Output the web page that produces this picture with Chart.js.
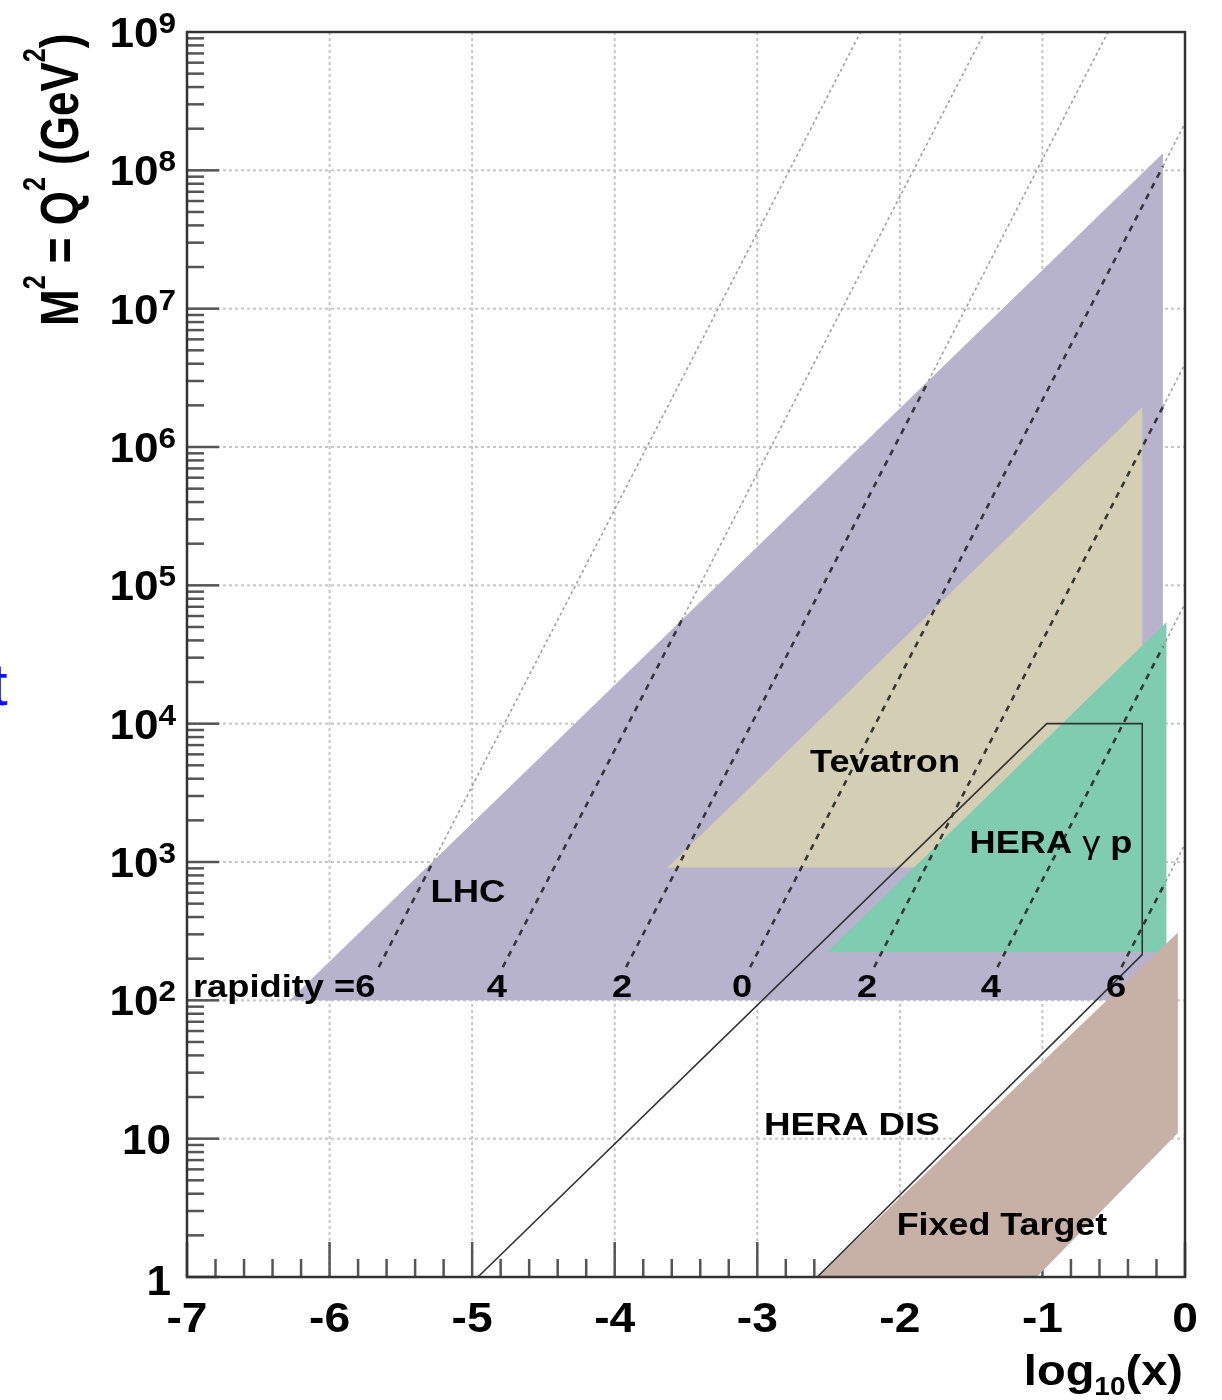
<!DOCTYPE html>
<html>
<head>
<meta charset="utf-8">
<script src="https://cdn.jsdelivr.net/npm/chart.js@4.4.1/dist/chart.umd.min.js"></script>
<style>
  body { margin: 0; background: #fff; }
  canvas { display: block; }
</style>
</head>
<body>
<canvas id="kin" width="1222" height="1400"></canvas>
<script>
// kinematic regions: x is log10(x), y is M^2 = Q^2 in GeV^2
var lhcX = [-6.28, -0.155, -0.155];
var lhcQ2 = [100, 1.33e8, 100];
var tevX = [-3.63, -0.30, -0.30];
var tevQ2 = [912, 1.95e6, 912];
var heraGpX = [-2.51, -0.13, -0.13];
var heraGpQ2 = [224, 5.4e4, 224];
var fixedX = [-2.58, -0.05, -0.05, -1.04];
var fixedQ2 = [1, 309, 11, 1];
var heraDisX = [-4.96, -0.97, -0.30, -0.30, -2.58];
var heraDisQ2 = [1, 1e4, 1e4, 214, 1];

// rapidity lines: foot (above the labels), where they leave the LHC band, end at the frame
var rapidityLabels = ["rapidity =6", "4", "2", "0", "2", "4", "6"];
var rapLowX = [-5.655, -4.785, -3.92, -3.05, -2.18, -1.315, -0.445];
var rapLowQ2 = [174, 174, 174, 174, 174, 174, 174];
var rapMidX = [-5.27, -3.53, -1.80, -0.155, -0.155, -0.155, -0.155];
var rapMidQ2 = [1020, 5.6e4, 3.0e6, 1.07e8, 1.95e6, 3.6e4, 660];
var rapTopX = [-2.275, -1.405, -0.54, 0, 0, 0, 0];
var rapTopQ2 = [1e9, 1e9, 1e9, 2.2e8, 4.0e6, 7.4e4, 1350];

// axes
var xTicks = [-7, -6, -5, -4, -3, -2, -1, 0];
var xTickLabels = ["-7", "-6", "-5", "-4", "-3", "-2", "-1", "0"];
var yTicks = [1, 10, 1e2, 1e3, 1e4, 1e5, 1e6, 1e7, 1e8, 1e9];
var yTickExp = [0, 1, 2, 3, 4, 5, 6, 7, 8, 9];

var FONT = '"Liberation Sans", Arial, sans-serif';

function pts(xs, ys, close) {
  var p = xs.map(function (v, i) { return { x: v, y: ys[i] }; });
  if (close) p.push(p[0]);
  return p;
}

function region(xs, ys, colour, order) {
  return {
    data: pts(xs, ys, true),
    backgroundColor: colour,
    borderColor: colour,
    borderWidth: 0,
    fill: 'shape',
    pointRadius: 0,
    tension: 0,
    order: order
  };
}

var datasets = [
  region(lhcX, lhcQ2, '#b7b3cc', 20),
  region(tevX, tevQ2, '#d4ceb4', 19),
  region(heraGpX, heraGpQ2, '#80ccb0', 18),
  region(fixedX, fixedQ2, '#c7b0a6', 17),
  {
    data: pts(heraDisX, heraDisQ2, false),
    borderColor: '#333',
    borderWidth: 1.6,
    fill: false,
    pointRadius: 0,
    order: 5
  }
];

for (var i = 0; i < rapidityLabels.length; i++) {
  datasets.push({
    data: [{ x: rapLowX[i], y: rapLowQ2[i] }, { x: rapMidX[i], y: rapMidQ2[i] }],
    borderColor: '#363636',
    borderWidth: 2.6,
    borderDash: [6, 6],
    fill: false,
    pointRadius: 0,
    order: 3
  });
  datasets.push({
    data: [{ x: rapMidX[i], y: rapMidQ2[i] }, { x: rapTopX[i], y: rapTopQ2[i] }],
    borderColor: '#a0a0a0',
    borderWidth: 1.6,
    borderDash: [3, 3],
    fill: false,
    pointRadius: 0,
    order: 4
  });
}

// draw a row of text pieces (for super/subscripts), stretched along x
function drawRuns(ctx, runs, x, y, sx, align) {
  ctx.save();
  ctx.translate(x, y);
  ctx.scale(sx, 1);
  var total = 0;
  runs.forEach(function (r) { ctx.font = r.font; r.w = ctx.measureText(r.t).width; total += r.w; });
  var cx = align === 'right' ? -total : (align === 'center' ? -total / 2 : 0);
  ctx.textAlign = 'left';
  ctx.textBaseline = 'alphabetic';
  runs.forEach(function (r) { ctx.font = r.font; ctx.fillText(r.t, cx, r.dy || 0); cx += r.w; });
  ctx.restore();
}

function seg(ctx, x1, y1, x2, y2) {
  ctx.beginPath(); ctx.moveTo(x1, y1); ctx.lineTo(x2, y2); ctx.stroke();
}

var paper = {
  id: 'paper',
  beforeDatasetsDraw: function (chart) {
    var ctx = chart.ctx, a = chart.chartArea, x = chart.scales.x, y = chart.scales.y;
    ctx.save();
    ctx.strokeStyle = '#c6c6c6';
    ctx.lineWidth = 2;
    ctx.setLineDash([3, 3]);
    xTicks.forEach(function (v) {
      if (v > -7 && v < 0) { var px = x.getPixelForValue(v); seg(ctx, px, a.top, px, a.bottom); }
    });
    yTicks.forEach(function (v) {
      if (v > 1 && v < 1e9) { var py = y.getPixelForValue(v); seg(ctx, a.left, py, a.right, py); }
    });
    ctx.setLineDash([]);
    ctx.strokeStyle = '#555';
    ctx.lineWidth = 2.5;
    for (var k = 0; k <= 35; k++) {
      var px = x.getPixelForValue(-7 + k * 0.2);
      seg(ctx, px, a.bottom, px, a.bottom - (k % 5 === 0 ? 35 : 18));
    }
    for (var d = 0; d < 9; d++) {
      for (var m = 1; m <= 9; m++) {
        var py = y.getPixelForValue(m * Math.pow(10, d));
        seg(ctx, a.left, py, a.left + (m === 1 ? 32 : 17), py);
      }
    }
    ctx.restore();
  },
  afterDatasetsDraw: function (chart) {
    var ctx = chart.ctx, a = chart.chartArea, x = chart.scales.x, y = chart.scales.y;
    ctx.save();
    ctx.strokeStyle = '#333';
    ctx.lineWidth = 2.5;
    ctx.strokeRect(a.left, a.top, a.right - a.left, a.bottom - a.top);
    ctx.fillStyle = '#000';

    var big = 'bold 42px ' + FONT, sup = 'bold 30px ' + FONT;
    xTicks.forEach(function (v, i) {
      drawRuns(ctx, [{ t: xTickLabels[i], font: big }], x.getPixelForValue(v), a.bottom + 55, 1.1, 'center');
    });
    yTicks.forEach(function (v, i) {
      var py = y.getPixelForValue(v), e = yTickExp[i];
      if (e === 0) drawRuns(ctx, [{ t: '1', font: big }], 171, py + 18, 1.05, 'right');
      else if (e === 1) drawRuns(ctx, [{ t: '10', font: big }], 171, py + 15, 1.05, 'right');
      else drawRuns(ctx, [{ t: '10', font: big }, { t: String(e), font: sup, dy: -14 }], 176, py + 15, 1.05, 'right');
    });

    // axis titles
    drawRuns(ctx, [
      { t: 'log', font: big },
      { t: '10', font: 'bold 25px ' + FONT, dy: 10 },
      { t: '(x)', font: big }
    ], 1183, 1385, 1.12, 'right');

    ctx.save();
    ctx.translate(78, 326);
    ctx.rotate(-Math.PI / 2);
    ctx.scale(1, 1.22);
    var tf = 'bold 44px ' + FONT, ts = 'bold 25px ' + FONT;
    drawRuns(ctx, [
      { t: 'M', font: tf }, { t: '2', font: ts, dy: -27 },
      { t: ' = Q', font: tf }, { t: '2', font: ts, dy: -27 },
      { t: ' (GeV', font: tf }, { t: '2', font: ts, dy: -27 },
      { t: ')', font: tf }
    ], 0, 0, 1, 'left');
    ctx.restore();

    // region names
    var lab = 'bold 32px ' + FONT;
    drawRuns(ctx, [{ t: 'LHC', font: lab }], x.getPixelForValue(-5.03), y.getPixelForValue(514), 1.14, 'center');
    drawRuns(ctx, [{ t: 'Tevatron', font: lab }], x.getPixelForValue(-2.104), y.getPixelForValue(4477), 1.13, 'center');
    drawRuns(ctx, [
      { t: 'HERA ', font: lab }, { t: 'γ', font: '32px ' + FONT }, { t: ' p', font: lab }
    ], x.getPixelForValue(-0.94), y.getPixelForValue(1161), 1.13, 'center');
    drawRuns(ctx, [{ t: 'HERA DIS', font: lab }], x.getPixelForValue(-2.336), y.getPixelForValue(10.6), 1.15, 'center');
    drawRuns(ctx, [{ t: 'Fixed Target', font: lab }], x.getPixelForValue(-1.284), y.getPixelForValue(2.01), 1.12, 'center');

    // rapidity labels along the bottom of the LHC band
    var rapX = [-6.958, -4.826, -3.949, -3.107, -2.23, -1.361, -0.484];
    var rf = 'bold 31px ' + FONT;
    rapidityLabels.forEach(function (t, i) {
      drawRuns(ctx, [{ t: t, font: rf }], x.getPixelForValue(rapX[i]), y.getPixelForValue(106), 1.17, i === 0 ? 'left' : 'center');
    });

    // stray link text from the page behind the figure
    ctx.fillStyle = '#1010ff';
    ctx.font = '60px ' + FONT;
    ctx.textAlign = 'left';
    ctx.fillText('t', -9, 705);
    ctx.restore();
  }
};

var ctx = document.getElementById('kin').getContext('2d');
var kinChart = new Chart(ctx, {
  type: 'line',
  data: { datasets: datasets },
  options: {
    responsive: false,
    devicePixelRatio: 1,
    animation: false,
    events: [],
    layout: { padding: { left: 187, right: 37, top: 32, bottom: 123 } },
    plugins: { legend: { display: false }, tooltip: { enabled: false } },
    scales: {
      x: { type: 'linear', min: -7, max: 0, display: false },
      y: { type: 'logarithmic', min: 1, max: 1e9, display: false }
    }
  },
  plugins: [paper]
});
</script>
</body>
</html>
